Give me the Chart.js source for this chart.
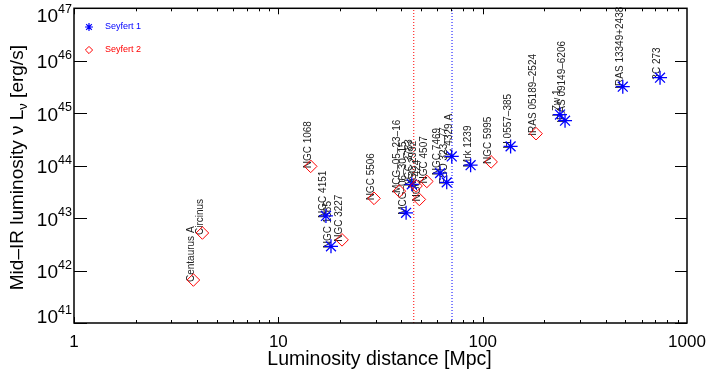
<!DOCTYPE html>
<html>
<head>
<meta charset="utf-8">
<script src="https://cdn.jsdelivr.net/npm/chart.js@4/dist/chart.umd.min.js"></script>
<style>
  html, body { margin: 0; padding: 0; background: #fff; }
  canvas { display: block; }
</style>
</head>
<body>
<canvas id="plot" width="709" height="378"></canvas>
<script>
// Seyfert 1 galaxies: name, luminosity distance [Mpc], mid-IR luminosity [erg/s]
const sy1Names = ['NGC 4151', 'NGC 1365', 'MCG\u201306\u201330\u201315', 'NGC 3783', 'NGC 7469',
  'ESO 323\u201377', 'IC 4329 A', 'Mrk 1239', 'H 0557\u2013385', 'I Zw 1',
  'IRAS 09149\u20136206', 'IRAS 13349+2438', '3C 273'];
const sy1Dist = [17.1, 18.1, 42.2, 45.0, 61.9, 66.7, 70.6, 87.3, 137, 239, 253, 485, 738];
const sy1Lum = [1.1e43, 2.9e42, 1.26e43, 4.4e43, 7.2e43, 4.8e43, 1.5e44, 1.02e44, 2.33e44,
  9.4e44, 7.2e44, 3.2e45, 4.76e45];

// Seyfert 2 galaxies
const sy2Names = ['Centaurus A', 'Circinus', 'NGC 1068', 'NGC 3227', 'NGC 5506',
  'MCG\u201305\u201323\u201316', 'NGC 2992', 'NGC 424', 'NGC 4507', 'NGC 5995', 'IRAS 05189\u20132524'];
const sy2Dist = [3.84, 4.25, 14.4, 20.5, 29.4, 39.1, 47.2, 49.0, 53.3, 110, 182.5];
const sy2Lum = [6.6e41, 5.2e42, 9.7e43, 3.85e42, 2.38e43, 3.27e43, 4.1e43, 2.27e43, 5.0e43,
  1.18e44, 4.07e44];

// distance limits of the two sub-samples [Mpc]
const sy2Limit = 46.0;
const sy1Limit = 70.8;

// axis ranges and tick labels
const xRange = [1, 1000];
const yRange = [1e41, 1e47];
const xTickLabels = ['1', '10', '100', '1000'];
const yTickExponents = ['41', '42', '43', '44', '45', '46', '47'];

const FONT = '"Liberation Sans", Arial, Helvetica, sans-serif';
const BLUE = '#0000ff';
const RED = '#ff0000';

const toPoints = (xs, ys) => xs.map((x, i) => ({ x: x, y: ys[i] }));

// vertical names next to each marker, drawn underneath the markers
const pointNames = {
  id: 'pointNames',
  beforeDatasetsDraw(chart) {
    const ctx = chart.ctx;
    ctx.save();
    ctx.font = '10px ' + FONT;
    ctx.fillStyle = '#222';
    ctx.textAlign = 'left';
    ctx.textBaseline = 'middle';
    chart.data.datasets.forEach((ds, i) => {
      if (!ds.names) return;
      chart.getDatasetMeta(i).data.forEach((pt, j) => {
        ctx.save();
        ctx.translate(pt.x - 2.5, pt.y + 2);
        ctx.rotate(-Math.PI / 2);
        ctx.fillText(ds.names[j], 0, 0);
        ctx.restore();
      });
    });
    ctx.restore();
  }
};

function drawStar(ctx, x, y, r) {
  ctx.beginPath();
  for (let k = 0; k < 4; k++) {
    const a = k * Math.PI / 4;
    ctx.moveTo(x - r * Math.cos(a), y - r * Math.sin(a));
    ctx.lineTo(x + r * Math.cos(a), y + r * Math.sin(a));
  }
  ctx.stroke();
}
function drawDiamond(ctx, x, y, r) {
  ctx.beginPath();
  ctx.moveTo(x, y - r);
  ctx.lineTo(x + r, y);
  ctx.lineTo(x, y + r);
  ctx.lineTo(x - r, y);
  ctx.closePath();
  ctx.stroke();
}

// frame, inward ticks, tick labels, axis titles and legend
const frameAndAxes = {
  id: 'frameAndAxes',
  afterDraw(chart) {
    const ctx = chart.ctx;
    const { left, right, top, bottom } = chart.chartArea;
    const xs = chart.scales.x, ys = chart.scales.y;
    ctx.save();

    ctx.strokeStyle = '#000';
    ctx.lineWidth = 1.5;
    ctx.strokeRect(left, top, right - left, bottom - top);

    // x ticks (log decades with minor ticks), on bottom and top
    ctx.lineWidth = 1;
    ctx.beginPath();
    for (let d = 0; d < 3; d++) {
      for (let m = 1; m <= 9; m++) {
        const v = m * Math.pow(10, d);
        const px = Math.round(xs.getPixelForValue(v)) + 0.5;
        const len = m === 1 ? 6 : 3;
        ctx.moveTo(px, bottom); ctx.lineTo(px, bottom - len);
        ctx.moveTo(px, top); ctx.lineTo(px, top + len);
      }
    }
    // y ticks at each decade, left and right
    yTickExponents.forEach(e => {
      const py = Math.round(ys.getPixelForValue(Math.pow(10, +e))) + 0.5;
      ctx.moveTo(left, py); ctx.lineTo(left + 13, py);
      ctx.moveTo(right, py); ctx.lineTo(right - 12, py);
    });
    ctx.stroke();

    // x tick labels
    ctx.fillStyle = '#000';
    ctx.font = '17px ' + FONT;
    ctx.textAlign = 'center';
    ctx.textBaseline = 'alphabetic';
    xTickLabels.forEach(t => {
      ctx.fillText(t, xs.getPixelForValue(+t), bottom + 24);
    });

    // y tick labels: 10 with a raised exponent
    yTickExponents.forEach((e, i) => {
      const py = ys.getPixelForValue(Math.pow(10, +e));
      let base = py + 7.5;
      if (i === 0) base = py;
      if (i === yTickExponents.length - 1) base = py + 14;
      ctx.font = '19px ' + FONT;
      ctx.textAlign = 'right';
      ctx.fillText('10', left - 16, base);
      ctx.font = '12.5px ' + FONT;
      ctx.textAlign = 'left';
      ctx.fillText(e, left - 16, base - 9.5);
    });

    // x title
    ctx.font = '19.5px ' + FONT;
    ctx.textAlign = 'center';
    ctx.fillText('Luminosity distance [Mpc]', (left + right) / 2 - 1, 365);

    // y title, rotated, with a subscript nu
    const big = '19px ' + FONT, small = '13px ' + FONT;
    const parts = [
      { t: 'Mid\u2013IR luminosity \u03bd L', f: big, dy: 0 },
      { t: '\u03bd', f: small, dy: 4 },
      { t: ' [erg/s]', f: big, dy: 0 }
    ];
    let total = 0;
    parts.forEach(p => { ctx.font = p.f; p.w = ctx.measureText(p.t).width; total += p.w; });
    ctx.save();
    ctx.translate(23, (top + bottom) / 2 + 2);
    ctx.rotate(-Math.PI / 2);
    ctx.textAlign = 'left';
    let cx = -total / 2;
    parts.forEach(p => {
      ctx.font = p.f;
      ctx.fillText(p.t, cx, p.dy);
      cx += p.w;
    });
    ctx.restore();

    // legend
    ctx.lineWidth = 1.2;
    ctx.strokeStyle = BLUE;
    drawStar(ctx, 89, 27, 4);
    ctx.lineWidth = 1;
    ctx.strokeStyle = RED;
    drawDiamond(ctx, 89, 50, 3.6);
    ctx.font = '9px ' + FONT;
    ctx.textAlign = 'left';
    ctx.textBaseline = 'middle';
    ctx.fillStyle = BLUE;
    ctx.fillText('Seyfert 1', 105, 27);
    ctx.fillStyle = RED;
    ctx.fillText('Seyfert 2', 105, 50);

    ctx.restore();
  }
};

new Chart(document.getElementById('plot'), {
  type: 'scatter',
  data: {
    datasets: [
      {
        label: 'Seyfert 2 limit',
        type: 'line',
        data: [{ x: sy2Limit, y: yRange[0] }, { x: sy2Limit, y: yRange[1] }],
        borderColor: RED,
        borderWidth: 1,
        borderDash: [1, 2],
        pointRadius: 0,
        fill: false
      },
      {
        label: 'Seyfert 1 limit',
        type: 'line',
        data: [{ x: sy1Limit, y: yRange[0] }, { x: sy1Limit, y: yRange[1] }],
        borderColor: BLUE,
        borderWidth: 1,
        borderDash: [1, 2],
        pointRadius: 0,
        fill: false
      },
      {
        label: 'Seyfert 2',
        names: sy2Names,
        data: toPoints(sy2Dist, sy2Lum),
        pointStyle: 'rectRot',
        pointRadius: 6.3,
        pointBorderColor: RED,
        pointBackgroundColor: 'rgba(0,0,0,0)',
        pointBorderWidth: 1
      },
      {
        label: 'Seyfert 1',
        names: sy1Names,
        data: toPoints(sy1Dist, sy1Lum),
        pointStyle: 'star',
        pointRadius: 7,
        pointBorderColor: BLUE,
        pointBackgroundColor: BLUE,
        pointBorderWidth: 1.3
      }
    ]
  },
  options: {
    responsive: false,
    animation: false,
    layout: { padding: { left: 74, top: 6, right: 22, bottom: 55 } },
    plugins: { legend: { display: false }, tooltip: { enabled: false } },
    scales: {
      x: { type: 'logarithmic', min: xRange[0], max: xRange[1], display: false },
      y: { type: 'logarithmic', min: yRange[0], max: yRange[1], display: false }
    }
  },
  plugins: [pointNames, frameAndAxes]
});
</script>
</body>
</html>
